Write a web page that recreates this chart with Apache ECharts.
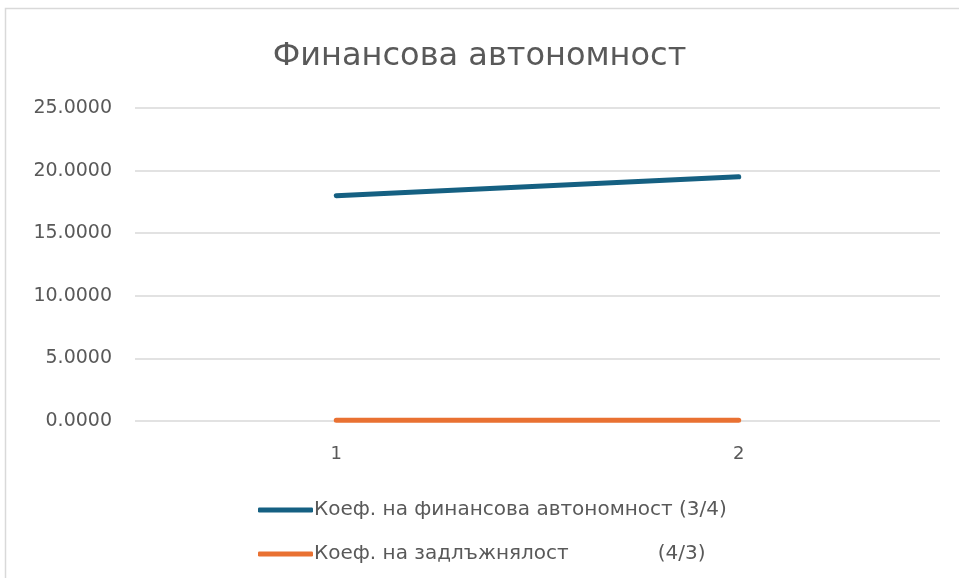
<!DOCTYPE html>
<html>
<head>
<meta charset="utf-8">
<script src="https://cdn.jsdelivr.net/npm/echarts@6/dist/echarts.min.js"></script>
<style>
  html, body { margin: 0; padding: 0; background: #fff; }
  #chart { width: 959px; height: 578px; }
</style>
</head>
<body>
<div id="chart"></div>
<script>
// данни
var categories = ['1', '2'];
var autonomy = [18.0, 19.5];      // Коеф. на финансова автономност (3/4)
var indebtedness = [0.055, 0.051]; // Коеф. на задлъжнялост (4/3)
var yTicks = { min: 0, max: 25, step: 5 };
var seriesNames = [
  'Коеф. на финансова автономност (3/4)',
  'Коеф. на задлъжнялост              (4/3)'
];

var font = 'DejaVu Sans';
var charts = echarts.init(document.getElementById('chart'));
charts.setOption({
  textStyle: { fontFamily: font },
  graphic: [{
    type: 'rect',
    shape: { x: 5.5, y: 8.5, width: 1000, height: 1000 },
    style: { fill: 'none', stroke: '#d9d9d9', lineWidth: 1.5 },
    silent: true
  }],
  title: {
    text: 'Финансова автономност',
    left: 'center',
    top: 36,
    textStyle: { color: '#595959', fontWeight: 'normal', fontSize: 32, fontFamily: font }
  },
  grid: { left: 135, right: 19, top: 108, height: 313, containLabel: false },
  legend: {
    orient: 'vertical',
    left: 253,
    top: 495,
    itemWidth: 55,
    itemHeight: 5,
    itemGap: 24,
    icon: 'roundRect',
    textStyle: { color: '#595959', fontSize: 20, fontFamily: font, padding: [0, 0, 0, -4] },
    data: seriesNames
  },
  xAxis: {
    type: 'category',
    boundaryGap: true,
    data: categories,
    axisLine: { show: false },
    axisTick: { show: false },
    axisLabel: { color: '#595959', fontSize: 18, fontFamily: font, margin: 24 }
  },
  yAxis: {
    type: 'value',
    min: yTicks.min,
    max: yTicks.max,
    interval: yTicks.step,
    axisLine: { show: false },
    axisTick: { show: false },
    splitLine: { lineStyle: { color: '#d9d9d9', width: 1.5 } },
    axisLabel: {
      color: '#595959',
      fontSize: 19,
      fontFamily: font,
      margin: 23,
      formatter: function (v) { return v.toFixed(4); }
    }
  },
  series: [
    {
      name: seriesNames[0],
      type: 'line',
      data: autonomy,
      symbol: 'none',
      color: '#156082',
      lineStyle: { width: 5, cap: 'round' }
    },
    {
      name: seriesNames[1],
      type: 'line',
      data: indebtedness,
      symbol: 'none',
      color: '#e97132',
      lineStyle: { width: 5, cap: 'round' }
    }
  ]
});
</script>
</body>
</html>
